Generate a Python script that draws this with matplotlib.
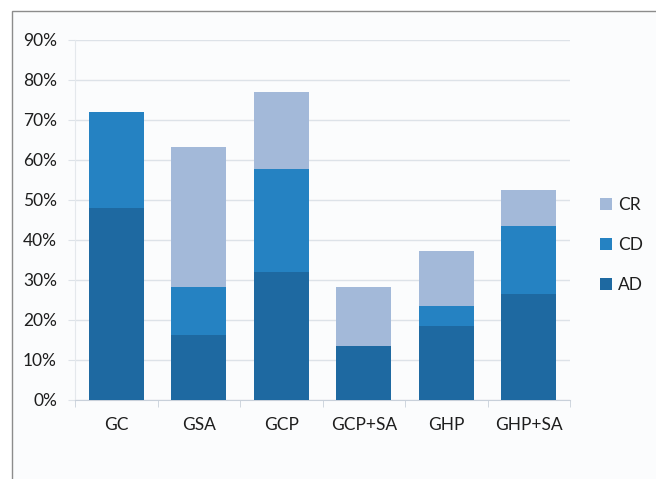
import matplotlib.pyplot as plt
import numpy as np
from matplotlib.patches import Rectangle

categories = ['GC', 'GSA', 'GCP', 'GCP+SA', 'GHP', 'GHP+SA']
ad = [48.0, 16.2, 32.0, 13.5, 18.6, 26.5]
cd = [24.0, 12.0, 25.8, 0.0, 5.0, 17.1]
cr = [0.0, 35.0, 19.2, 14.7, 13.6, 8.9]
yticks = [0, 10, 20, 30, 40, 50, 60, 70, 80, 90]

c_ad = '#1e69a1'
c_cd = '#2582c2'
c_cr = '#a3b9d9'
txt = '#1e1e1e'

plt.rcParams['font.family'] = ['Lato', 'DejaVu Sans']

fig = plt.figure(figsize=(6.56, 4.79), dpi=100)
fig.patch.set_facecolor('white')

# outer frame of the chart area, drawn behind the axes
fig.patches.append(Rectangle((12/656, -0.05), 1.0, 1 - 11/479 + 0.05,
                             transform=fig.transFigure, facecolor='#fbfcfd',
                             edgecolor='#8c8c8c', linewidth=1.0, zorder=-10))

ax = fig.add_axes([75/656, 1 - 400/479, 495/656, 360/479])
ax.set_facecolor('none')

x = np.arange(len(categories))
w = 0.665
ad_arr = np.array(ad)
cd_arr = np.array(cd)
cr_arr = np.array(cr)
ax.bar(x, ad_arr, w, color=c_ad, label='AD', zorder=3)
ax.bar(x, cd_arr, w, bottom=ad_arr, color=c_cd, label='CD', zorder=3)
ax.bar(x, cr_arr, w, bottom=ad_arr + cd_arr, color=c_cr, label='CR', zorder=3)

ax.set_xlim(-0.5, len(categories) - 0.5)
ax.set_ylim(0, 90)
ax.set_yticks(yticks)
ax.set_yticklabels([f'{v}%' for v in yticks], fontsize=12.5, color=txt)
ax.yaxis.grid(True, color='#dde2e8', linewidth=1.0, zorder=0)
ax.tick_params(axis='y', length=5, color='#dde2e8', pad=8)

ax.set_xticks(x)
ax.set_xticklabels(categories, fontsize=12.5, color=txt)
ax.set_xticks(np.arange(-0.5, len(categories)), minor=True)
ax.tick_params(axis='x', which='major', length=0, pad=12)
ax.tick_params(axis='x', which='minor', length=5, color='#c8d0da')

for s in ['top', 'right']:
    ax.spines[s].set_visible(False)
ax.spines['left'].set_color('#e4e8ec')
ax.spines['bottom'].set_color('#c8d0da')

handles, labels = ax.get_legend_handles_labels()
leg = fig.legend(handles[::-1], labels[::-1], loc='center left',
                 bbox_to_anchor=(584/656, 1 - 245/479), frameon=False,
                 fontsize=12.5, handlelength=0.7, handleheight=0.7,
                 handletextpad=0.35, labelspacing=1.4)
for t in leg.get_texts():
    t.set_color(txt)

plt.savefig('out.png', dpi=100)
